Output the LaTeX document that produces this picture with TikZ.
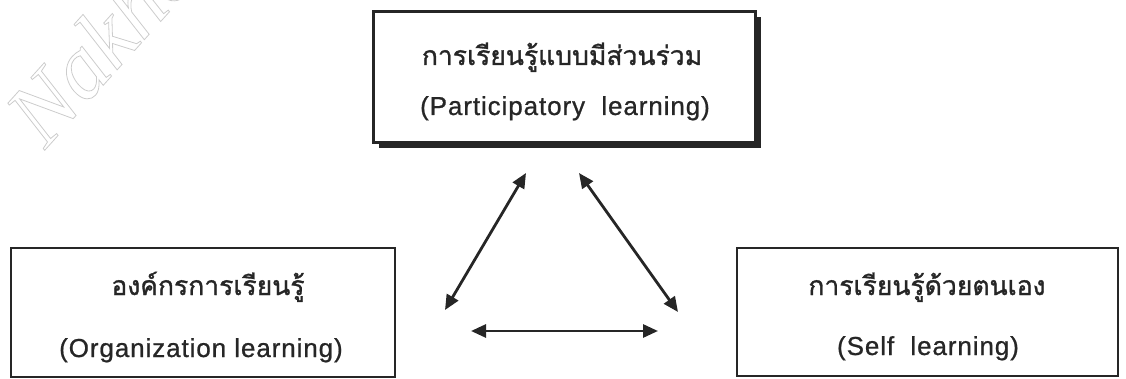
\documentclass[tikz,border=0pt]{standalone}
\usepackage{fontspec}
\setmainfont{Liberation Sans}
\newfontfamily\thaifont[Script=Thai,FakeBold=1.2]{Loma}
\newfontfamily\enfont[LetterSpace=3.5,FakeBold=0.8]{Liberation Sans}
\newfontfamily\wmfont{Liberation Serif}
\usetikzlibrary{arrows.meta}
\begin{document}
\begin{tikzpicture}[x=1pt,y=-1pt,
  box/.style={draw=black!85, line width=2.2pt, fill=white, inner sep=0pt},
  topbox/.style={box, line width=3pt},
  shadow/.style={fill=black!85},
  th/.style={font=\thaifont\fontsize{26.5}{30}\selectfont, anchor=base, inner sep=0pt, text=black!85},
  en/.style={font=\enfont\fontsize{26}{30}\selectfont, anchor=base, inner sep=0pt, text=black!85},
  wm/.style={font=\wmfont\itshape\fontsize{90}{90}\selectfont, text=black!20, inner sep=0pt},
  arr/.style={draw=black!85, line width=2.8pt, {Triangle[length=15pt,width=13pt]}-{Triangle[length=15pt,width=13pt]}}]
\useasboundingbox (0,0) rectangle (1126,379);
\clip (0,0) rectangle (1126,379);
% watermark
\node[wm, rotate=48, anchor=base west] (wmark) at (45,150) {\special{pdf:code 1 Tr 0.8 w}Nakhon\special{pdf:code 0 Tr}};
% top box with shadow
\fill[shadow] (379,17) rectangle (761,148);
\node[topbox, minimum width=382, minimum height=131] (top) at (564,77) {};
\node[th] (topth) at (562,65) {การเรียนรู้แบบมีส่วนร่วม};
\node[en] (topen) at (565,115) {(Participatory\ \ learning)};
% left box
\node[box, minimum width=384, minimum height=129] (left) at (203,312.5) {};
\node[th] (leftth) at (208,295) {องค์กรการเรียนรู้};
\node[en] (leften) at (201,357) {(Organization learning)};
% right box
\node[box, minimum width=381, minimum height=128] (right) at (927.5,312) {};
\node[th] (rightth) at (927,295) {การเรียนรู้ด้วยตนเอง};
\node[en] (righten) at (928,355) {(Self\ \ learning)};
% arrows
\coordinate (a1) at (445,310);
\coordinate (a2) at (526,173);
\coordinate (b1) at (579,173);
\coordinate (b2) at (678,312);
\coordinate (c1) at (471,331);
\coordinate (c2) at (658,331);
\draw[arr] (a1) -- (a2);
\draw[arr] (b1) -- (b2);
\draw[arr] (c1) -- (c2);
\end{tikzpicture}
\end{document}
